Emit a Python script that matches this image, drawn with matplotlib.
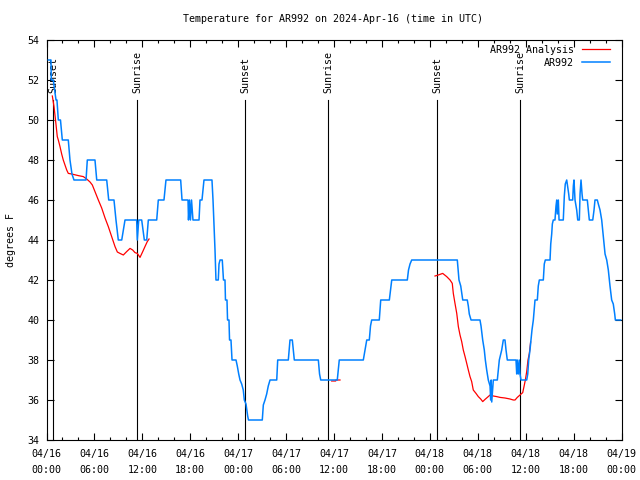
import matplotlib
matplotlib.use('Agg')
import matplotlib.pyplot as plt
import numpy as np
import pandas as pd

# hours since 2024-04-16 00:00 UTC, temperature (F)
station_obs = [
    (0.23, 53), (0.56, 53), (0.60, 52), (0.85, 52), (1.19, 51), (1.31, 51),
    (1.48, 50), (1.75, 50), (1.98, 49), (2.73, 49), (2.94, 48), (3.19, 47.3),
    (3.44, 47), (4.95, 47), (5.11, 48), (6.07, 48), (6.29, 47), (7.54, 47),
    (7.79, 46), (8.45, 46), (8.70, 45), (8.99, 44), (9.42, 44), (9.83, 45),
    (11.29, 45), (11.37, 44), (11.55, 45), (11.92, 45), (12.25, 44), (12.55, 44),
    (12.75, 45), (13.80, 45), (14.00, 46), (14.71, 46), (14.96, 47), (16.80, 47),
    (16.97, 46), (17.72, 46), (17.78, 45), (17.91, 46), (18.03, 45), (18.16, 46),
    (18.34, 45), (19.10, 45), (19.22, 46), (19.47, 46), (19.72, 47), (20.72, 47),
    (20.85, 46), (20.97, 44.8), (21.10, 43.5), (21.22, 42), (21.51, 42), (21.60, 42.8),
    (21.73, 43), (22.01, 43), (22.16, 42), (22.35, 42), (22.41, 41), (22.60, 41),
    (22.67, 40), (22.85, 40), (22.92, 39), (23.10, 39), (23.23, 38), (23.73, 38),
    (23.89, 37.7), (24.07, 37.3), (24.23, 37), (24.44, 36.8), (24.64, 36.5), (24.77, 36),
    (24.98, 35.8), (25.19, 35.2), (25.29, 35), (27.02, 35), (27.15, 35.75), (27.36, 36),
    (27.57, 36.3), (27.77, 36.7), (27.99, 37), (28.83, 37), (28.95, 38), (30.28, 38),
    (30.49, 39), (30.78, 39), (31.03, 38), (34.04, 38), (34.19, 37.3), (34.34, 37),
    (36.41, 37), (36.54, 37.5), (36.66, 38), (39.67, 38), (39.88, 38.5), (40.10, 39),
    (40.42, 39), (40.57, 39.7), (40.72, 40), (41.67, 40), (41.85, 41), (42.93, 41),
    (43.08, 41.5), (43.23, 42), (45.18, 42), (45.33, 42.5), (45.52, 42.8), (45.73, 43),
    (51.44, 43), (51.65, 42), (51.87, 41.7), (52.12, 41), (52.69, 41), (52.82, 40.7),
    (52.94, 40.3), (53.16, 40), (54.28, 40), (54.41, 39.7), (54.62, 39), (54.82, 38.5),
    (54.95, 38), (55.12, 37.5), (55.32, 37), (55.54, 36.7), (55.62, 36), (55.68, 37),
    (55.75, 35.9), (55.95, 37), (56.45, 37), (56.57, 37.5), (56.70, 38), (56.88, 38.3),
    (57.00, 38.5), (57.20, 39), (57.41, 39), (57.54, 38.5), (57.70, 38), (58.79, 38),
    (58.88, 37.3), (58.95, 38), (59.08, 37.3), (59.20, 38), (59.29, 37.3), (59.42, 37),
    (60.13, 37), (60.26, 37.3), (60.38, 38), (60.54, 38.5), (60.67, 39), (60.79, 39.5),
    (60.96, 40), (61.17, 41), (61.46, 41), (61.58, 41.7), (61.71, 42), (62.21, 42),
    (62.33, 42.8), (62.46, 43), (63.05, 43), (63.14, 43.8), (63.26, 44.3), (63.34, 44.8),
    (63.46, 45), (63.67, 45), (63.80, 45.7), (63.89, 46), (63.96, 45.3), (64.09, 46),
    (64.18, 45), (64.71, 45), (64.84, 46.2), (64.96, 46.8), (65.14, 47), (65.39, 46.3),
    (65.47, 46), (65.89, 46), (65.97, 46.7), (66.05, 47), (66.18, 46), (66.39, 45.5),
    (66.52, 45), (66.72, 45), (66.81, 46.3), (66.93, 47), (67.06, 46.3), (67.14, 46),
    (67.72, 46), (67.85, 45.5), (67.97, 45), (68.40, 45), (68.56, 45.5), (68.68, 46),
    (68.97, 46), (69.10, 45.8), (69.31, 45.5), (69.52, 45), (69.72, 44.2), (69.94, 43.3),
    (70.15, 43), (70.35, 42.5), (70.56, 41.7), (70.77, 41), (70.97, 40.8), (71.15, 40.3),
    (71.23, 40), (71.90, 40),
]

# analysis comes in three separate pieces
analysis_1 = [
    (0.73, 51.2), (0.94, 50.67), (1.13, 50.0), (1.35, 49.17), (1.48, 49.0), (1.69, 48.67),
    (1.90, 48.3), (2.10, 48.0), (2.53, 47.5), (2.73, 47.33), (3.16, 47.3), (3.98, 47.22),
    (4.61, 47.17), (5.03, 47.05), (5.45, 46.9), (5.74, 46.75), (6.07, 46.42), (6.49, 46.0),
    (6.91, 45.6), (7.33, 45.1), (7.74, 44.67), (8.16, 44.17), (8.58, 43.67), (8.87, 43.4),
    (9.20, 43.33), (9.62, 43.25), (10.04, 43.42), (10.46, 43.58), (10.79, 43.5), (11.08, 43.37),
    (11.37, 43.33), (11.71, 43.13), (12.05, 43.42), (12.33, 43.67), (12.62, 43.92), (12.84, 44.05),
]
analysis_2 = [(35.71, 36.95), (36.21, 36.95), (36.25, 37.0), (36.75, 37.0)]
analysis_3 = [
    (48.65, 42.2), (49.06, 42.25), (49.61, 42.33), (50.11, 42.17), (50.53, 42.0), (50.81, 41.83),
    (50.94, 41.33), (51.15, 40.83), (51.37, 40.33), (51.57, 39.67), (51.78, 39.25), (51.99, 38.92),
    (52.19, 38.5), (52.41, 38.17), (52.62, 37.83), (52.82, 37.5), (53.03, 37.17), (53.24, 36.92),
    (53.44, 36.5), (53.78, 36.33), (54.07, 36.17), (54.37, 36.05), (54.62, 35.92), (54.91, 36.03),
    (55.20, 36.13), (55.54, 36.25), (55.95, 36.2), (56.37, 36.17), (56.79, 36.13), (57.41, 36.1),
    (58.04, 36.05), (58.45, 36.0), (58.67, 36.0), (58.95, 36.13), (59.29, 36.25), (59.63, 36.37),
    (59.79, 36.67), (59.96, 37.0), (60.13, 37.42), (60.29, 38.0), (60.46, 38.33), (60.62, 38.9),
]

sun_hours = [0.81, 11.33, 24.86, 35.25, 48.90, 59.29]
sun_labels = ['Sunset', 'Sunrise', 'Sunset', 'Sunrise', 'Sunset', 'Sunrise']

start = pd.Timestamp('2024-04-16 00:00')
tick_hours = np.arange(0, 73, 6)

mono = 'DejaVu Sans Mono'
fs = 7.2
red = '#ff0000'
blue = '#0080ff'

fig = plt.figure(figsize=(6.4, 4.8), dpi=100)
ax = fig.add_axes([46.5 / 640, 40 / 480, 575 / 640, 400 / 480])

for h, lab in zip(sun_hours, sun_labels):
    ax.plot([h, h], [34, 51], color='black', lw=0.8, zorder=1)
    ax.text(h, 51.35, lab, rotation=90, ha='center', va='bottom',
            family=mono, fontsize=fs)

first = True
for seg in (analysis_1, analysis_2, analysis_3):
    hx, tv = zip(*seg)
    ax.plot(hx, tv, color=red, lw=0.9, zorder=2,
            label='AR992 Analysis' if first else None)
    first = False

sx, st = zip(*station_obs)
ax.plot(sx, st, color=blue, lw=1.1, zorder=3, label='AR992')

ax.set_xlim(0, 72)
ax.set_ylim(34, 54)
ax.set_xticks(tick_hours)
ax.set_xticks(np.arange(0, 73, 2), minor=True)
ax.set_xticklabels([(start + pd.Timedelta(hours=int(h))).strftime('%m/%d\n%H:%M')
                    for h in tick_hours])
ax.set_yticks(np.arange(34, 55, 2))
ax.tick_params(which='both', direction='in', top=True, right=True,
               labelsize=fs, width=0.8)
ax.tick_params(which='major', length=5, pad=5)
ax.tick_params(axis='x', which='major', pad=6.5)
ax.tick_params(which='minor', length=2.5)
for lbl in ax.get_xticklabels() + ax.get_yticklabels():
    lbl.set_family(mono)
for lbl in ax.get_xticklabels():
    lbl.set_linespacing(1.75)
for sp in ax.spines.values():
    sp.set_linewidth(0.8)

ax.set_ylabel('degrees F', family=mono, fontsize=fs, labelpad=8)
fig.text(0.52, 0.96, 'Temperature for AR992 on 2024-Apr-16 (time in UTC)',
         ha='center', va='center', family=mono, fontsize=fs)

ax.legend(loc='upper right', bbox_to_anchor=(0.987, 0.9975), frameon=False,
          markerfirst=False, prop={'family': mono, 'size': fs}, handlelength=2.8,
          handletextpad=0.8, labelspacing=0.3, borderaxespad=0.0)

plt.savefig('out.png', dpi=100)
plt.close('all')
